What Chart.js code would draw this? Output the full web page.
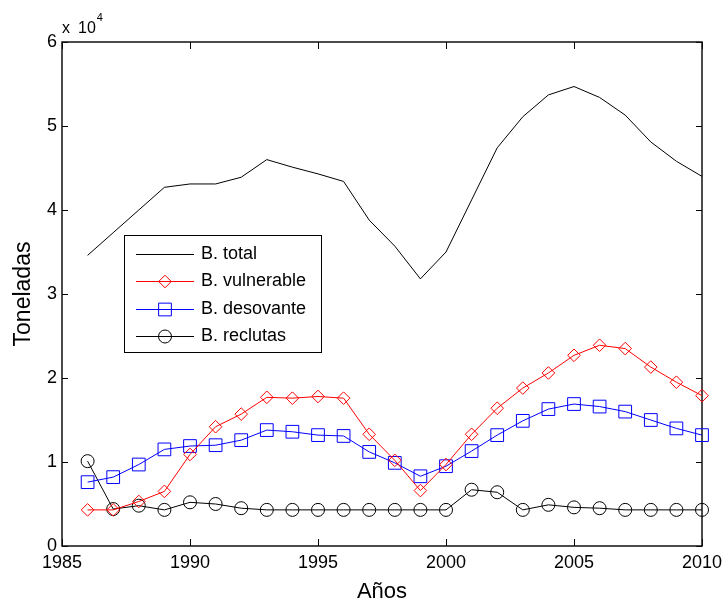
<!DOCTYPE html>
<html><head><meta charset="utf-8">
<script src="https://cdn.jsdelivr.net/npm/chart.js@4.4.0/dist/chart.umd.min.js"></script>
<style>html,body{margin:0;padding:0;background:#fff}#wrap{width:724px;height:602px}</style>
</head><body><div id="wrap"><canvas id="c" width="724" height="602"></canvas></div>
<script>
const years = [1986,1987,1988,1989,1990,1991,1992,1993,1994,1995,1996,1997,1998,1999,2000,2001,2002,2003,2004,2005,2006,2007,2008,2009,2010];
const bTotal = [34600,37300,40000,42700,43100,43100,43900,46000,45100,44300,43400,38800,35700,31800,35000,41200,47400,51100,53700,54700,53400,51300,48100,45800,44000];
const bVulnerable = [4300,4300,5300,6500,10900,14200,15700,17700,17600,17800,17600,13300,10200,6600,9700,13300,16400,18800,20600,22700,23900,23500,21300,19500,17900];
const bDesovante = [7600,8200,9700,11500,11900,12000,12600,13800,13600,13200,13100,11200,9900,8300,9500,11300,13200,14900,16300,16900,16600,16000,15000,14000,13200];
const bReclutas = [10100,4400,4800,4300,5200,5000,4500,4300,4300,4300,4300,4300,4300,4300,4300,6700,6400,4300,4900,4600,4500,4300,4300,4300,4300];
const seriesNames = ['B. total','B. vulnerable','B. desovante','B. reclutas'];
const xTicks = [1985,1990,1995,2000,2005,2010];
const yTicks = [0,10000,20000,30000,40000,50000,60000];
const yTickLabels = ['0','1','2','3','4','5','6'];
const xTitle = 'Años';
const yTitle = 'Toneladas';
const expX = 'x';
const expBase = '10';
const expPower = '4';

const FONT = "'Liberation Sans', Arial, sans-serif";
const pts = arr => arr.map((v,i)=>({x:years[i], y:v}));

function marker(ctx, style, x, y, r){
  ctx.beginPath();
  if(style==='rectRot'){ ctx.moveTo(x, y-r); ctx.lineTo(x+r, y); ctx.lineTo(x, y+r); ctx.lineTo(x-r, y); ctx.closePath(); }
  else if(style==='rect'){ const s=r*Math.SQRT1_2; ctx.rect(x-s, y-s, 2*s, 2*s); }
  else if(style==='circle'){ ctx.arc(x, y, r, 0, Math.PI*2); }
  ctx.stroke();
}

const framePlugin = {
  id:'frame',
  beforeDatasetsDraw(chart){
    const ctx=chart.ctx, a=chart.chartArea, xs=chart.scales.x, ys=chart.scales.y;
    ctx.save();
    ctx.strokeStyle='#000'; ctx.lineWidth=1;
    xTicks.forEach(t=>{ const px=Math.round(xs.getPixelForValue(t))+0.5;
      ctx.beginPath(); ctx.moveTo(px,a.bottom); ctx.lineTo(px,a.bottom-7); ctx.moveTo(px,a.top); ctx.lineTo(px,a.top+7); ctx.stroke(); });
    yTicks.forEach(t=>{ const py=Math.round(ys.getPixelForValue(t))+0.5;
      ctx.beginPath(); ctx.moveTo(a.left,py); ctx.lineTo(a.left+6,py); ctx.moveTo(a.right,py); ctx.lineTo(a.right-6,py); ctx.stroke(); });
    ctx.lineWidth=1.5; ctx.strokeStyle='#111';
    ctx.strokeRect(a.left, a.top, a.right-a.left, a.bottom-a.top);
    ctx.restore();
  },
  afterDatasetsDraw(chart){
    const ctx=chart.ctx, a=chart.chartArea;
    ctx.save();
    const x0=124, y0=235, w=197, h=117;
    ctx.fillStyle='#fff'; ctx.fillRect(x0,y0,w,h);
    ctx.strokeStyle='#000'; ctx.lineWidth=1; ctx.strokeRect(x0+0.5,y0+0.5,w,h);
    chart.data.datasets.forEach((ds,i)=>{
      const cy = Math.round(254 + i*27.3)+0.5;
      ctx.strokeStyle=ds.borderColor; ctx.lineWidth=1;
      ctx.beginPath(); ctx.moveTo(136,cy); ctx.lineTo(194,cy); ctx.stroke();
      if(ds.pointRadius>0) marker(ctx, ds.pointStyle, 165, cy, ds.pointRadius);
      ctx.fillStyle='#000'; ctx.font='18px '+FONT; ctx.textBaseline='middle'; ctx.textAlign='left';
      ctx.fillText(ds.label, 201, cy);
    });
    ctx.fillStyle='#000'; ctx.textBaseline='alphabetic'; ctx.textAlign='left';
    ctx.font='16px '+FONT; ctx.fillText(expX, a.left, 33);
    ctx.fillText(expBase, a.left+16, 33);
    const wd=ctx.measureText(expBase).width;
    ctx.font='11px '+FONT; ctx.fillText(expPower, a.left+16+wd+1, 20.5);
    ctx.restore();
  }
};

const colors = ['#000000','#ff0000','#0000ff','#000000'];
const styles = ['circle','rectRot','rect','circle'];
const radii = [0,6.3,9,6.5];
const seriesData = [bTotal,bVulnerable,bDesovante,bReclutas];

new Chart(document.getElementById('c'), {
  type:'line',
  data:{ datasets: seriesData.map((d,i)=>({
    label: seriesNames[i], data: pts(d), borderColor: colors[i], borderWidth:1,
    pointStyle: styles[i], pointRadius: radii[i], pointBorderColor: colors[i], pointBorderWidth:1,
    pointBackgroundColor:'rgba(0,0,0,0)', pointHoverRadius: radii[i], tension:0, clip:false, fill:false
  }))},
  options:{
    responsive:false, animation:false, devicePixelRatio:1,
    layout:{ padding:{ top:42, right:22, left:0, bottom:0 } },
    plugins:{ legend:{display:false}, tooltip:{enabled:false} },
    scales:{
      x:{ type:'linear', min:1985, max:2010,
        afterBuildTicks(s){ s.ticks = xTicks.map(v=>({value:v})); },
        afterFit(s){ s.height=56; s.paddingLeft=0; s.paddingRight=0; },
        grid:{display:false, drawTicks:false}, border:{display:false},
        ticks:{ color:'#000', font:{family:FONT, size:18}, padding:6, maxRotation:0, callback:v=>String(v) },
        title:{ display:true, text:xTitle, color:'#000', font:{family:FONT, size:22}, padding:{top:0,bottom:-3} }
      },
      y:{ type:'linear', min:0, max:60000,
        afterBuildTicks(s){ s.ticks = yTicks.map(v=>({value:v})); },
        afterFit(s){ s.width=62; s.paddingTop=0; s.paddingBottom=0; },
        grid:{display:false, drawTicks:false}, border:{display:false},
        ticks:{ color:'#000', font:{family:FONT, size:18}, padding:5, callback:(v)=>yTickLabels[yTicks.indexOf(v)] },
        title:{ display:true, text:yTitle, color:'#000', font:{family:FONT, size:23}, padding:{top:10,bottom:0} }
      }
    }
  },
  plugins:[framePlugin]
});
</script></body></html>
